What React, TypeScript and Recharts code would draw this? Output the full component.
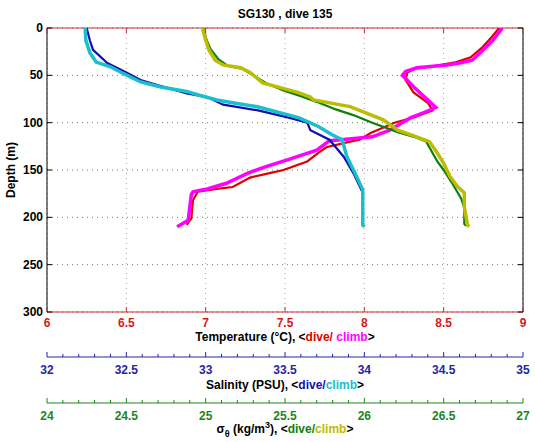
import React from 'react'
import { ScatterChart, Scatter, XAxis, YAxis, CartesianGrid } from 'recharts'

const FONT = '"Liberation Sans", Arial, Helvetica, sans-serif'

const DEPTH_TICKS = [0, 50, 100, 150, 200, 250, 300]
const TEMP_TICKS = [6, 6.5, 7, 7.5, 8, 8.5, 9]
const SAL_TICKS = [32, 32.5, 33, 33.5, 34, 34.5, 35]
const SIGMA_TICKS = [24, 24.5, 25, 25.5, 26, 26.5, 27]

// temperature: dive (red), climb (magenta)
const tempDiveDepth = [0, 10, 21, 31, 36, 40, 43, 47, 55, 68, 79, 87, 94, 100, 111, 118, 120, 126, 132, 141, 150, 153, 158, 168, 170, 173, 182, 201, 208]
const tempDive = [8.85, 8.8, 8.74, 8.67, 8.58, 8.45, 8.32, 8.27, 8.26, 8.31, 8.4, 8.43, 8.32, 8.19, 8.04, 7.97, 7.91, 7.76, 7.71, 7.64, 7.49, 7.41, 7.28, 7.17, 7.07, 6.95, 6.92, 6.91, 6.88]
const tempClimbDepth = [0, 13, 23, 34, 37, 39, 42, 46, 50, 62, 73, 84, 89, 95, 102, 108, 115, 117, 119, 129, 139, 147, 153, 164, 170, 173, 176, 189, 203, 208, 210]
const tempClimb = [8.87, 8.81, 8.75, 8.68, 8.6, 8.52, 8.33, 8.26, 8.24, 8.31, 8.38, 8.45, 8.38, 8.29, 8.22, 8.16, 8.05, 7.92, 7.78, 7.7, 7.52, 7.37, 7.27, 7.13, 7.01, 6.92, 6.91, 6.9, 6.89, 6.84, 6.82]

// salinity: dive (blue), climb (cyan)
const salDiveDepth = [0, 13, 23, 37, 47, 55, 60, 69, 73, 81, 87, 95, 100, 108, 118, 136, 153, 174, 195, 208]
const salDive = [32.25, 32.27, 32.29, 32.38, 32.5, 32.59, 32.69, 32.88, 33.01, 33.11, 33.33, 33.53, 33.64, 33.66, 33.78, 33.87, 33.93, 33.99, 33.99, 33.99]
const salClimbDepth = [0, 13, 26, 36, 41, 48, 57, 62, 67, 71, 76, 79, 83, 95, 104, 113, 118, 136, 153, 171, 189, 208, 210]
const salClimb = [32.24, 32.245, 32.27, 32.31, 32.4, 32.48, 32.59, 32.71, 32.88, 32.96, 33.07, 33.17, 33.32, 33.59, 33.71, 33.8, 33.86, 33.89, 33.94, 33.99, 33.99, 33.99, 34.0]

// sigma-theta: dive (green), climb (yellow)
const sigmaDiveDepth = [0, 10, 22, 33, 40, 43, 50, 58, 66, 72, 78, 86, 92, 100, 110, 116, 120, 141, 150, 163, 180, 190, 207, 209]
const sigmaDive = [24.99, 25.0, 25.03, 25.08, 25.14, 25.23, 25.3, 25.38, 25.49, 25.6, 25.7, 25.82, 25.93, 26.05, 26.21, 26.33, 26.39, 26.46, 26.5, 26.55, 26.61, 26.63, 26.63, 26.64]
const sigmaClimbDepth = [0, 13, 23, 34, 39, 42, 47, 58, 63, 68, 73, 76, 83, 97, 108, 115, 120, 132, 143, 157, 168, 174, 189, 208, 210]
const sigmaClimb = [24.98, 25.0, 25.02, 25.06, 25.11, 25.22, 25.28, 25.36, 25.47, 25.58, 25.66, 25.68, 25.91, 26.12, 26.21, 26.33, 26.41, 26.46, 26.5, 26.54, 26.59, 26.63, 26.63, 26.65, 26.66]

const RED = '#e00000'
const MAGENTA = '#ff00ff'
const BLUE = '#1010b0'
const CYAN = '#19bfcc'
const GREEN = '#0d800d'
const YELLOW = '#bcbc00'

const TEMP_AXIS = '#c43030'
const TEMP_LABEL = '#d81818'
const SAL_AXIS = '#2525a5'
const SIGMA_AXIS = '#1c861c'

const PLOT_CX = 285

const toPoints = (depth: number[], vals: number[]) => depth.map((d, i) => ({ d, v: vals[i] }))

// major ticks every 0.5 with four minor ticks between
function withMinor(major: number[]) {
  const out: number[] = []
  major.forEach((m, i) => {
    out.push(m)
    if (i < major.length - 1) {
      for (let k = 1; k < 5; k++) out.push(Math.round((m + ((major[i + 1] - m) * k) / 5) * 100) / 100)
    }
  })
  return out
}

const isMajor = (v: number) => Math.abs(v * 2 - Math.round(v * 2)) < 1e-6

const NoDot = () => <g />

function TempTick(props: any) {
  const { x, y, payload } = props
  return (
    <g>
      <line x1={x} y1={y} x2={x} y2={y - 5} stroke={TEMP_AXIS} />
      <text x={x} y={y + 15} textAnchor="middle" fill={TEMP_LABEL} fontSize={12} fontWeight="bold" fontFamily={FONT}>
        {payload.value}
      </text>
    </g>
  )
}

function TopTick(props: any) {
  const { x, y } = props
  return <line x1={x} y1={y} x2={x} y2={y + 5} stroke={TEMP_AXIS} />
}

function makeMinorTick(color: string) {
  return function MinorTick(props: any) {
    const { x, y, payload } = props
    const major = isMajor(payload.value)
    return (
      <g>
        <line x1={x} y1={y} x2={x} y2={y - (major ? 5 : 3)} stroke={color} />
        {major && (
          <text x={x} y={y + 17} textAnchor="middle" fill={color} fontSize={12} fontWeight="bold" fontFamily={FONT}>
            {payload.value}
          </text>
        )}
      </g>
    )
  }
}

const SalTick = makeMinorTick(SAL_AXIS)
const SigmaTick = makeMinorTick(SIGMA_AXIS)

function DepthTick(props: any) {
  const { x, y, payload } = props
  return (
    <g>
      <line x1={x} y1={y} x2={x + 5} y2={y} stroke="#000" />
      <text x={x - 4} y={y + 4} textAnchor="end" fill="#000" fontSize={12} fontWeight="bold" fontFamily={FONT}>
        {payload.value}
      </text>
    </g>
  )
}

function RightTick(props: any) {
  const { x, y } = props
  return <line x1={x} y1={y} x2={x - 5} y2={y} stroke="#000" />
}

const titleStyle = { fontSize: 12, fontWeight: 'bold' as const, fontFamily: FONT }

export default function App() {
  return (
    <div style={{ position: 'absolute', left: 0, top: 0, width: 535, height: 442, background: '#fff' }}>
      <ScatterChart width={535} height={442} margin={{ top: 0, right: 0, bottom: 0, left: 0 }}>
        <CartesianGrid xAxisId="a" yAxisId="d" vertical={false} stroke="#777" strokeDasharray="1 4" />
        <CartesianGrid xAxisId="a" yAxisId="d" horizontal={false} stroke="#c09a9a" strokeDasharray="1 4" />

        {/* bottom axes: sigma (outermost), salinity, temperature (at the plot) */}
        <XAxis
          xAxisId="c"
          type="number"
          dataKey="v"
          domain={[24, 27]}
          ticks={withMinor(SIGMA_TICKS)}
          interval={0}
          allowDataOverflow
          height={39}
          axisLine={{ stroke: SIGMA_AXIS }}
          tickLine={false}
          tickSize={0}
          tickMargin={0}
          tick={<SigmaTick />}
          label={() => (
            <text x={PLOT_CX} y={433} textAnchor="middle" {...titleStyle}>
              <tspan fill="#000">σ</tspan>
              <tspan fill="#000" dy={4} fontSize={9}>θ</tspan>
              <tspan fill="#000" dy={-4}> (kg/m</tspan>
              <tspan fill="#000" dy={-5} fontSize={9}>3</tspan>
              <tspan fill="#000" dy={5}>), &lt;</tspan>
              <tspan fill={GREEN}>dive/</tspan>
              <tspan fill={YELLOW}>climb</tspan>
              <tspan fill="#000">&gt;</tspan>
            </text>
          )}
        />
        <XAxis
          xAxisId="b"
          type="number"
          dataKey="v"
          domain={[32, 35]}
          ticks={withMinor(SAL_TICKS)}
          interval={0}
          allowDataOverflow
          height={46}
          axisLine={{ stroke: SAL_AXIS }}
          tickLine={false}
          tickSize={0}
          tickMargin={0}
          tick={<SalTick />}
          label={() => (
            <text x={PLOT_CX} y={389} textAnchor="middle" {...titleStyle}>
              <tspan fill="#000">Salinity (PSU), &lt;</tspan>
              <tspan fill={BLUE}>dive</tspan>
              <tspan fill={BLUE}>/</tspan>
              <tspan fill={CYAN}>climb</tspan>
              <tspan fill="#000">&gt;</tspan>
            </text>
          )}
        />
        <XAxis
          xAxisId="a"
          type="number"
          dataKey="v"
          domain={[6, 9]}
          ticks={TEMP_TICKS}
          interval={0}
          allowDataOverflow
          height={45}
          axisLine={{ stroke: TEMP_AXIS }}
          tickLine={false}
          tickSize={0}
          tickMargin={0}
          tick={<TempTick />}
          label={() => (
            <text x={PLOT_CX} y={341} textAnchor="middle" {...titleStyle}>
              <tspan fill="#000">Temperature (°C), &lt;</tspan>
              <tspan fill={RED}>dive/ </tspan>
              <tspan fill={MAGENTA}>climb</tspan>
              <tspan fill="#000">&gt;</tspan>
            </text>
          )}
        />
        <XAxis
          xAxisId="top"
          orientation="top"
          type="number"
          dataKey="v"
          domain={[6, 9]}
          ticks={TEMP_TICKS}
          interval={0}
          allowDataOverflow
          height={28}
          axisLine={{ stroke: TEMP_AXIS }}
          tickLine={false}
          tickSize={0}
          tickMargin={0}
          tick={<TopTick />}
          label={() => (
            <text x={PLOT_CX} y={18} textAnchor="middle" fill="#000" {...titleStyle}>
              SG130 , dive 135
            </text>
          )}
        />
        <YAxis
          yAxisId="d"
          type="number"
          dataKey="d"
          domain={[0, 300]}
          reversed
          ticks={DEPTH_TICKS}
          interval={0}
          allowDataOverflow
          width={47}
          axisLine={{ stroke: '#000' }}
          tickLine={false}
          tickSize={0}
          tickMargin={0}
          tick={<DepthTick />}
          label={() => (
            <text x={15} y={170} transform="rotate(-90, 15, 170)" textAnchor="middle" fill="#000" {...titleStyle}>
              Depth (m)
            </text>
          )}
        />
        <YAxis
          yAxisId="r"
          orientation="right"
          type="number"
          dataKey="d"
          domain={[0, 300]}
          reversed
          ticks={DEPTH_TICKS}
          interval={0}
          allowDataOverflow
          width={12}
          axisLine={{ stroke: '#000' }}
          tickLine={false}
          tickSize={0}
          tickMargin={0}
          tick={<RightTick />}
        />

        <Scatter xAxisId="a" yAxisId="d" data={toPoints(tempDiveDepth, tempDive)} fill={RED} line={{ stroke: RED, strokeWidth: 2.2 }} shape={<NoDot />} isAnimationActive={false} />
        <Scatter xAxisId="a" yAxisId="d" data={toPoints(tempClimbDepth, tempClimb)} fill={MAGENTA} line={{ stroke: MAGENTA, strokeWidth: 3.5 }} shape={<NoDot />} isAnimationActive={false} />
        <Scatter xAxisId="b" yAxisId="d" data={toPoints(salDiveDepth, salDive)} fill={BLUE} line={{ stroke: BLUE, strokeWidth: 2.2 }} shape={<NoDot />} isAnimationActive={false} />
        <Scatter xAxisId="b" yAxisId="d" data={toPoints(salClimbDepth, salClimb)} fill={CYAN} line={{ stroke: CYAN, strokeWidth: 3.5 }} shape={<NoDot />} isAnimationActive={false} />
        <Scatter xAxisId="c" yAxisId="d" data={toPoints(sigmaDiveDepth, sigmaDive)} fill={GREEN} line={{ stroke: GREEN, strokeWidth: 2.2 }} shape={<NoDot />} isAnimationActive={false} />
        <Scatter xAxisId="c" yAxisId="d" data={toPoints(sigmaClimbDepth, sigmaClimb)} fill={YELLOW} line={{ stroke: YELLOW, strokeWidth: 3.5 }} shape={<NoDot />} isAnimationActive={false} />
      </ScatterChart>
    </div>
  )
}
